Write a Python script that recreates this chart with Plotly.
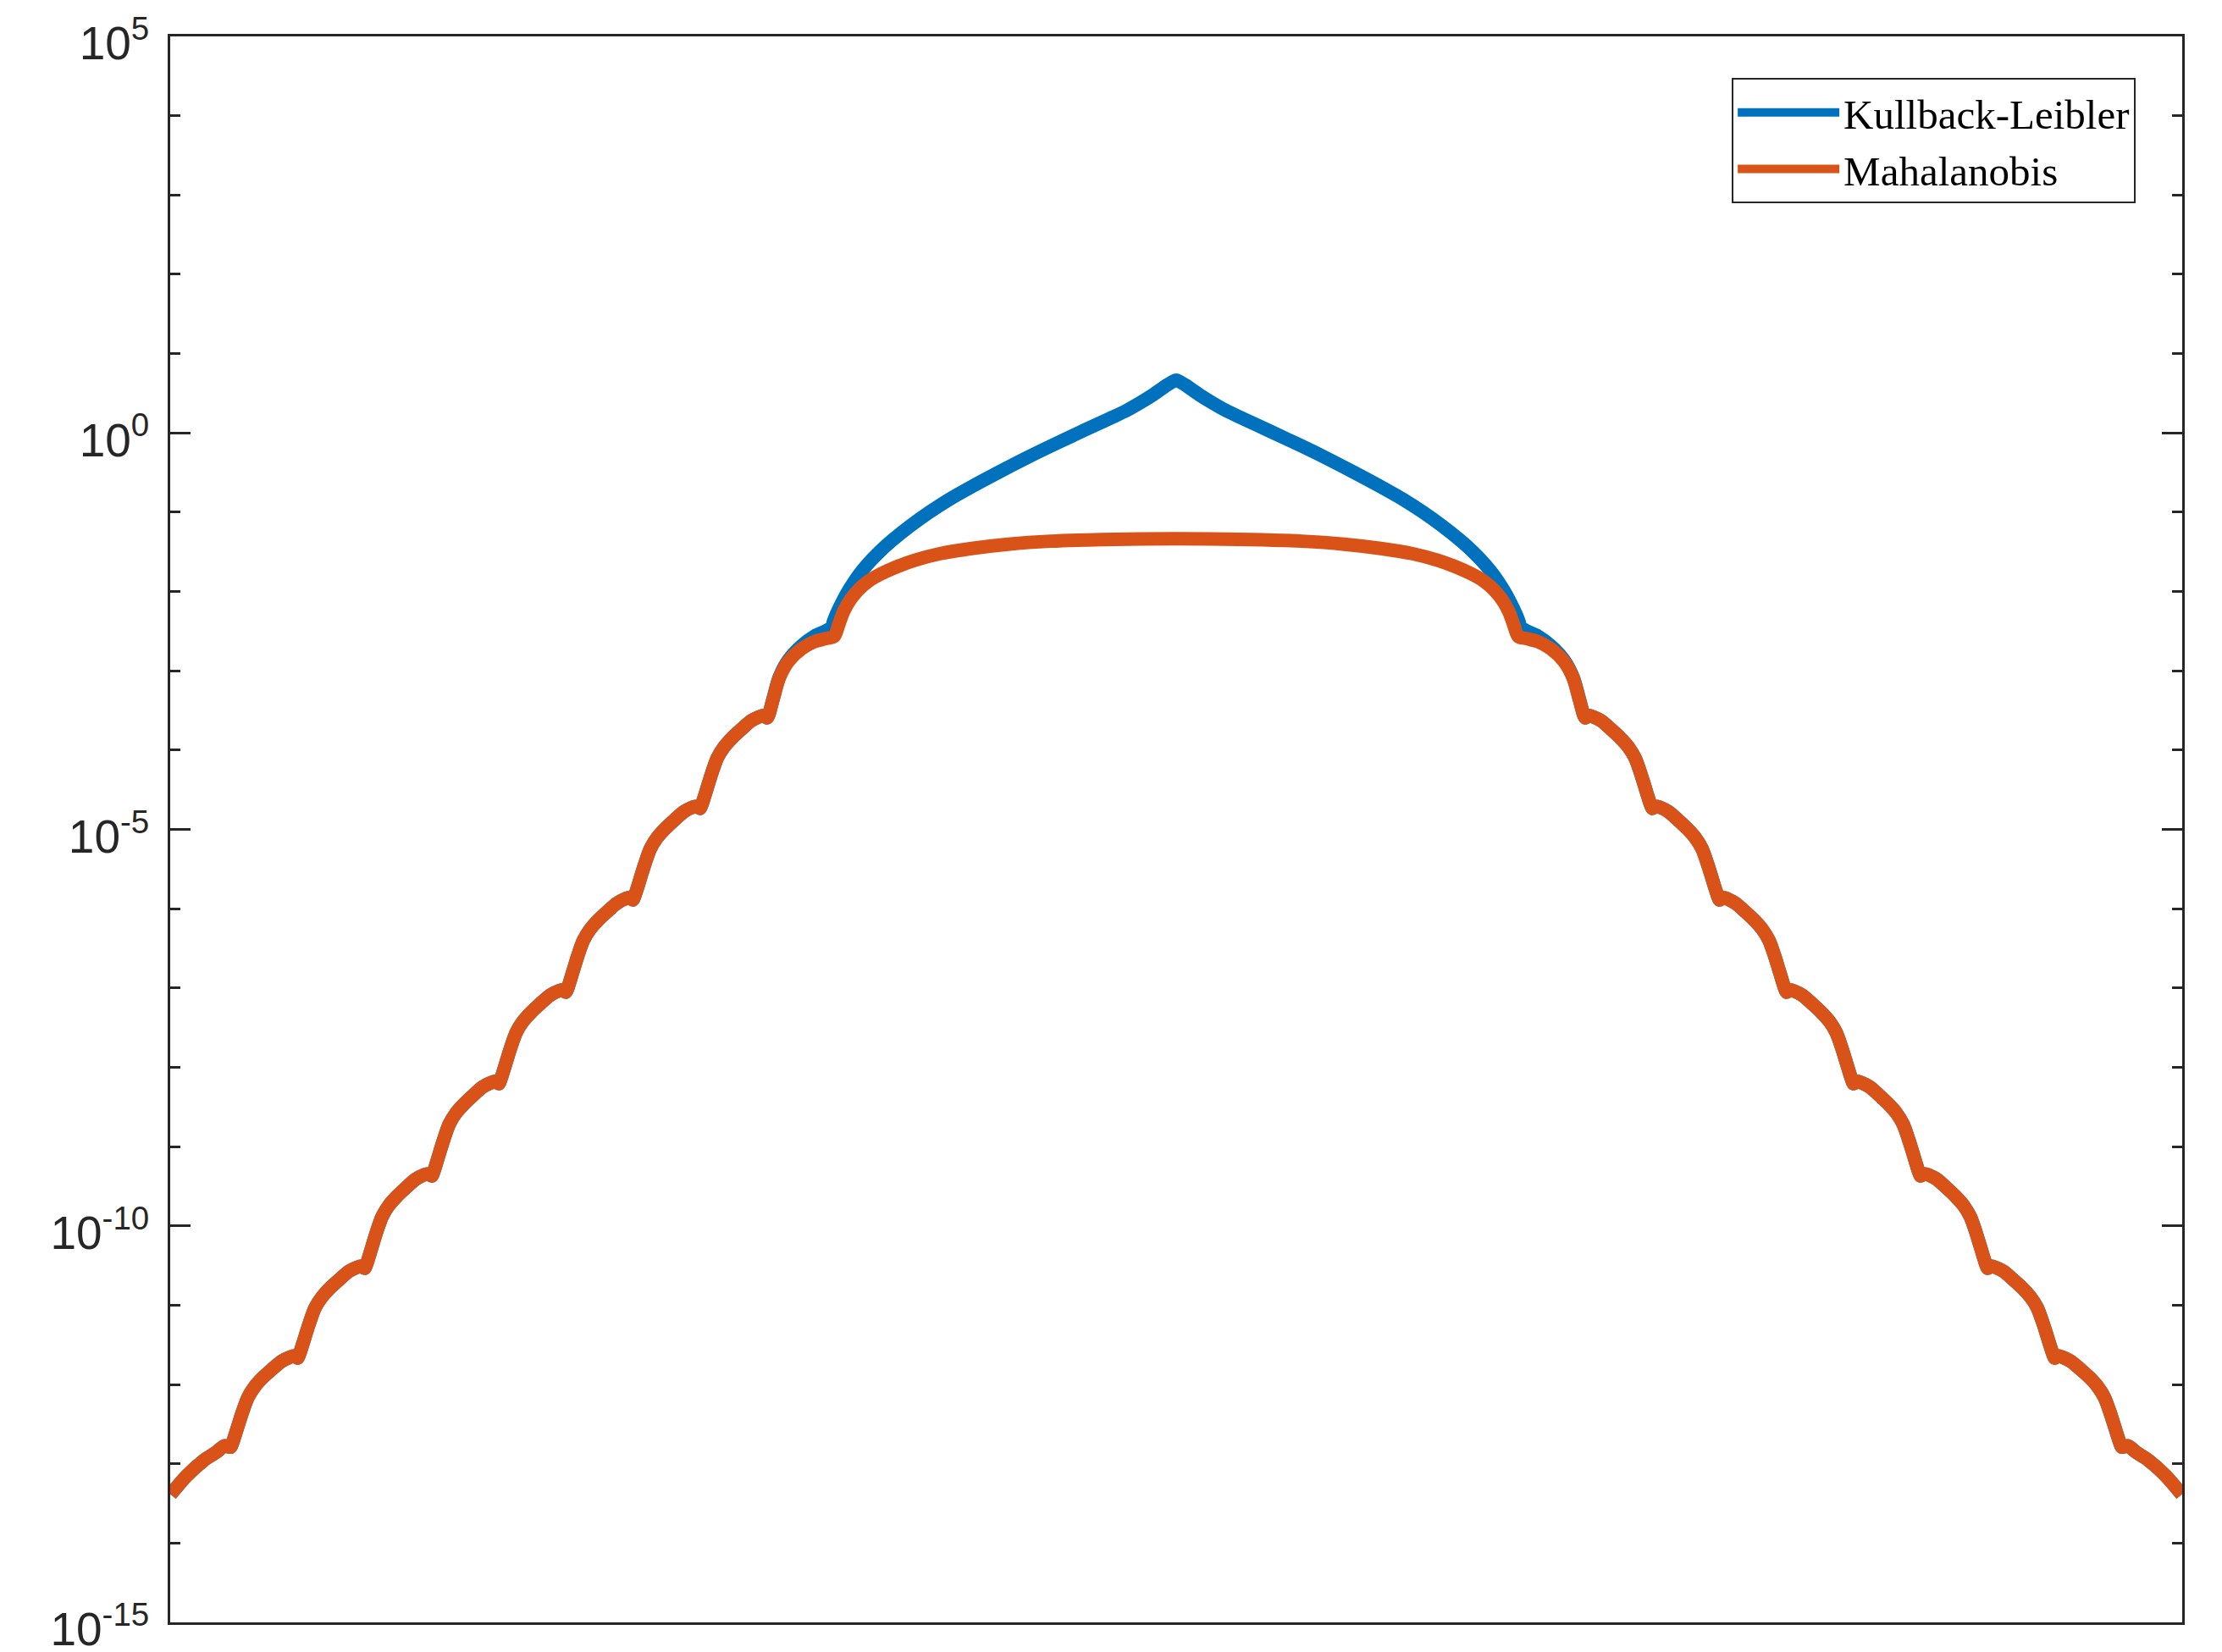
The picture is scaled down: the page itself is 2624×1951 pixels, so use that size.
import plotly.graph_objects as go

# ---------------- data ----------------
# Outer tails (both measures coincide there); x in axis units, y values
tail_left_x = [-14.994, -14.754, -14.501, -14.312, -14.19, -14.1,
               -14.07, -14.03, -13.98, -13.92, -13.84, -13.74, -13.62, -13.48, -13.34, -13.22, -13.15, -13.1,
               -13.07, -13.03, -12.98, -12.92, -12.84, -12.74, -12.62, -12.48, -12.34, -12.22, -12.15, -12.1,
               -12.07, -12.03, -11.98, -11.92, -11.84, -11.74, -11.62, -11.48, -11.34, -11.22, -11.15, -11.1,
               -11.07, -11.03, -10.98, -10.92, -10.84, -10.74, -10.62, -10.48, -10.34, -10.22, -10.15, -10.1,
               -10.07, -10.03, -9.98, -9.92, -9.84, -9.74, -9.62, -9.48, -9.34, -9.22, -9.15, -9.1,
               -9.07, -9.03, -8.98, -8.92, -8.84, -8.74, -8.62, -8.48, -8.34, -8.22, -8.15, -8.1,
               -8.07, -8.03, -7.98, -7.92, -7.84, -7.74, -7.62, -7.48, -7.34, -7.22, -7.15, -7.1,
               -7.07, -7.03, -6.98, -6.92, -6.84, -6.74, -6.62, -6.48, -6.34, -6.22, -6.15, -6.1]
tail_left_y = [4.10e-14, 7.05e-14, 1.10e-13, 1.40e-13, 1.68e-13, 1.62e-13,
               1.84e-13, 2.33e-13, 3.18e-13, 4.56e-13, 6.89e-13, 9.40e-13, 1.22e-12, 1.56e-12, 1.96e-12, 2.20e-12, 2.29e-12, 2.15e-12,
               2.45e-12, 3.10e-12, 4.24e-12, 6.10e-12, 9.25e-12, 1.26e-11, 1.64e-11, 2.10e-11, 2.66e-11, 2.99e-11, 3.11e-11, 2.92e-11,
               3.33e-11, 4.25e-11, 5.86e-11, 8.53e-11, 1.31e-10, 1.81e-10, 2.36e-10, 3.05e-10, 3.87e-10, 4.38e-10, 4.55e-10, 4.26e-10,
               4.86e-10, 6.19e-10, 8.55e-10, 1.24e-9, 1.91e-9, 2.64e-9, 3.44e-9, 4.45e-9, 5.65e-9, 6.38e-9, 6.64e-9, 6.21e-9,
               7.10e-9, 9.02e-9, 1.24e-8, 1.80e-8, 2.75e-8, 3.78e-8, 4.93e-8, 6.35e-8, 8.07e-8, 9.10e-8, 9.46e-8, 8.85e-8,
               1.01e-7, 1.29e-7, 1.78e-7, 2.59e-7, 3.97e-7, 5.48e-7, 7.16e-7, 9.25e-7, 1.17e-6, 1.33e-6, 1.38e-6, 1.29e-6,
               1.48e-6, 1.87e-6, 2.58e-6, 3.73e-6, 5.71e-6, 7.85e-6, 1.02e-5, 1.32e-5, 1.67e-5, 1.89e-5, 1.96e-5, 1.84e-5,
               2.09e-5, 2.65e-5, 3.64e-5, 5.26e-5, 8.02e-5, 1.10e-4, 1.43e-4, 1.84e-4, 2.33e-4, 2.62e-4, 2.73e-4, 2.55e-4]

tail_right_x = [6.1, 6.15, 6.22, 6.34, 6.48, 6.62, 6.74, 6.84, 6.92, 6.98, 7.03, 7.07,
                7.1, 7.15, 7.22, 7.34, 7.48, 7.62, 7.74, 7.84, 7.92, 7.98, 8.03, 8.07,
                8.1, 8.15, 8.22, 8.34, 8.48, 8.62, 8.74, 8.84, 8.92, 8.98, 9.03, 9.07,
                9.1, 9.15, 9.22, 9.34, 9.48, 9.62, 9.74, 9.84, 9.92, 9.98, 10.03, 10.07,
                10.1, 10.15, 10.22, 10.34, 10.48, 10.62, 10.74, 10.84, 10.92, 10.98, 11.03, 11.07,
                11.1, 11.15, 11.22, 11.34, 11.48, 11.62, 11.74, 11.84, 11.92, 11.98, 12.03, 12.07,
                12.1, 12.15, 12.22, 12.34, 12.48, 12.62, 12.74, 12.84, 12.92, 12.98, 13.03, 13.07,
                13.1, 13.15, 13.22, 13.34, 13.48, 13.62, 13.74, 13.84, 13.92, 13.98, 14.03, 14.07,
                14.1, 14.19, 14.312, 14.501, 14.754, 14.994]
tail_right_y = [2.55e-4, 2.73e-4, 2.62e-4, 2.33e-4, 1.84e-4, 1.43e-4, 1.10e-4, 8.02e-5, 5.26e-5, 3.64e-5, 2.65e-5, 2.09e-5,
                1.84e-5, 1.96e-5, 1.89e-5, 1.67e-5, 1.32e-5, 1.02e-5, 7.85e-6, 5.71e-6, 3.73e-6, 2.58e-6, 1.87e-6, 1.48e-6,
                1.29e-6, 1.38e-6, 1.33e-6, 1.17e-6, 9.25e-7, 7.16e-7, 5.48e-7, 3.97e-7, 2.59e-7, 1.78e-7, 1.29e-7, 1.01e-7,
                8.85e-8, 9.46e-8, 9.10e-8, 8.07e-8, 6.35e-8, 4.93e-8, 3.78e-8, 2.75e-8, 1.80e-8, 1.24e-8, 9.02e-9, 7.10e-9,
                6.21e-9, 6.64e-9, 6.38e-9, 5.65e-9, 4.45e-9, 3.44e-9, 2.64e-9, 1.91e-9, 1.24e-9, 8.55e-10, 6.19e-10, 4.86e-10,
                4.26e-10, 4.55e-10, 4.38e-10, 3.87e-10, 3.05e-10, 2.36e-10, 1.81e-10, 1.31e-10, 8.53e-11, 5.86e-11, 4.25e-11, 3.33e-11,
                2.92e-11, 3.11e-11, 2.99e-11, 2.66e-11, 2.10e-11, 1.64e-11, 1.26e-11, 9.25e-12, 6.10e-12, 4.24e-12, 3.10e-12, 2.45e-12,
                2.15e-12, 2.29e-12, 2.20e-12, 1.96e-12, 1.56e-12, 1.22e-12, 9.40e-13, 6.89e-13, 4.56e-13, 3.18e-13, 2.33e-13, 1.84e-13,
                1.62e-13, 1.68e-13, 1.40e-13, 1.10e-13, 7.05e-14, 4.10e-14]

# Central part, Mahalanobis
mah_center_x = [-6.02, -5.92, -5.78, -5.58, -5.39, -5.23, -5.1, -5.032, -4.956, -4.855, -4.729, -4.577,
                 -4.400, -4.148, -3.896, -3.516, -3.049, -2.506, -1.875, -1.117, 0.0,
                 1.117, 1.875, 2.506, 3.049, 3.516, 3.896, 4.148, 4.400,
                 4.577, 4.729, 4.855, 4.956, 5.032, 5.1, 5.23, 5.39, 5.58, 5.78, 5.92, 6.02]
mah_center_y = [4.09e-4, 8.05e-4, 1.32e-3, 1.91e-3, 2.34e-3, 2.54e-3, 2.71e-3, 3.82e-3, 5.66e-3, 7.98e-3, 1.07e-2, 1.37e-2,
                1.67e-2, 2.08e-2, 2.48e-2, 3.01e-2, 3.49e-2, 3.95e-2, 4.31e-2, 4.52e-2, 4.63e-2,
                4.52e-2, 4.31e-2, 3.95e-2, 3.49e-2, 3.01e-2, 2.48e-2, 2.08e-2, 1.67e-2,
                1.37e-2, 1.07e-2, 7.98e-3, 5.66e-3, 3.82e-3, 2.71e-3, 2.54e-3, 2.34e-3, 1.91e-3, 1.32e-3, 8.05e-4, 4.09e-4]

# Central part, Kullback-Leibler
kl_center_x = [-6.02, -5.92, -5.78, -5.58, -5.39, -5.23, -5.14, -5.107, -5.069, -4.981, -4.867, -4.741,
               -4.615, -4.438, -4.236, -3.958, -3.680, -3.390, -3.049, -2.633, -2.216, -1.787, -1.370,
               -0.991, -0.739, -0.537, -0.360, -0.234, -0.133, -0.057, 0.0,
               0.057, 0.133, 0.234, 0.360, 0.537, 0.739, 0.991,
               1.370, 1.787, 2.216, 2.633, 3.049, 3.390, 3.680, 3.958, 4.236, 4.438, 4.615,
               4.741, 4.867, 4.981, 5.069, 5.107, 5.14, 5.23, 5.39, 5.58, 5.78, 5.92, 6.02]
kl_center_y = [4.14e-4, 8.24e-4, 1.38e-3, 2.09e-3, 2.75e-3, 3.16e-3, 3.54e-3, 4.26e-3, 5.12e-3, 7.35e-3, 1.09e-2, 1.58e-2,
               2.15e-2, 3.09e-2, 4.41e-2, 6.79e-2, 0.100, 0.144, 0.210, 0.324, 0.492, 0.738, 1.08,
               1.52, 1.92, 2.40, 2.97, 3.52, 4.03, 4.42, 4.61,
               4.42, 4.03, 3.52, 2.97, 2.40, 1.92, 1.52,
               1.08, 0.738, 0.492, 0.324, 0.210, 0.144, 0.100, 6.79e-2, 4.41e-2, 3.09e-2, 2.15e-2,
               1.58e-2, 1.09e-2, 7.35e-3, 5.12e-3, 4.26e-3, 3.54e-3, 3.16e-3, 2.75e-3, 2.09e-3, 1.38e-3, 8.24e-4, 4.14e-4]

series_names = ["Kullback-Leibler", "Mahalanobis"]
series_colors = ["#0072BD", "#D95319"]

y_major_vals = [1e-15, 1e-10, 1e-5, 1e0, 1e5]
y_major_text = ["10<sup>-15</sup>", "10<sup>-10</sup>", "10<sup>-5</sup>", "10<sup>0</sup>", "10<sup>5</sup>"]
y_minor_vals = [10.0 ** k for k in range(-15, 6)]

# ---------------- figure ----------------
kl_x = tail_left_x + kl_center_x + tail_right_x
kl_y = tail_left_y + kl_center_y + tail_right_y
mah_x = tail_left_x + mah_center_x + tail_right_x
mah_y = tail_left_y + mah_center_y + tail_right_y

fig = go.Figure()
fig.add_trace(go.Scatter(x=kl_x, y=kl_y, mode="lines", name=series_names[0],
                         line=dict(color=series_colors[0], width=16, shape="spline", smoothing=0.8)))
fig.add_trace(go.Scatter(x=mah_x, y=mah_y, mode="lines", name=series_names[1],
                         line=dict(color=series_colors[1], width=16, shape="spline", smoothing=0.8)))

axis_col = "#262626"
fig.update_layout(
    width=2624, height=1951,
    paper_bgcolor="white", plot_bgcolor="white",
    margin=dict(l=193, r=55, t=35, b=43, pad=0),
    showlegend=True,
    legend=dict(
        x=0.9769, xanchor="right", y=0.9736, yanchor="top",
        bgcolor="white", bordercolor=axis_col, borderwidth=2,
        font=dict(family="Liberation Serif, DejaVu Serif, serif", size=49, color="black"),
        itemwidth=120, tracegroupgap=0,
    ),
    xaxis=dict(
        type="linear", range=[-15, 15], showgrid=False, zeroline=False,
        showticklabels=False, ticks="", showline=True, linecolor=axis_col,
        linewidth=2.5, mirror=True, automargin=False,
    ),
    yaxis=dict(
        type="log", range=[-15, 5], showgrid=False, zeroline=False,
        showline=True, linecolor=axis_col, linewidth=2.5, mirror="ticks",
        automargin=False,
        tickmode="array", tickvals=y_major_vals, ticktext=y_major_text,
        ticks="inside", ticklen=24, tickwidth=2.5, tickcolor=axis_col,
        ticklabelstandoff=11, ticklabelshift=8, ticklabeloverflow="allow",
        tickfont=dict(family="Liberation Sans, Arial, sans-serif", size=55, color=axis_col),
        minor=dict(tickmode="array", tickvals=y_minor_vals, ticks="inside",
                   ticklen=12, tickwidth=2.5, tickcolor=axis_col, showgrid=False),
    ),
)

fig.write_html("out.html")
